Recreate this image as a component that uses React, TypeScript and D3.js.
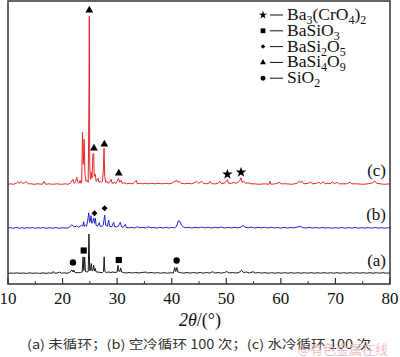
import React from "react";
import * as d3 from "d3";

// ---- data ----
const xTicks = [10, 20, 30, 40, 50, 60, 70, 80];
const xMinorTicks = [15, 25, 35, 45, 55, 65, 75];
const seriesNames = ["(a)", "(b)", "(c)"];
const seriesColors = ["#1a1a1a", "#2323c8", "#e8282c"];
const seriesOffsets = [10.5, 55.7, 99.7];

// (a) uncycled
const seriesA: [number, number][] = [
  [10, 0], [10.5, 0.5], [11, 0.2], [11.6, 0.6], [12.2, 0.2], [12.8, 0.5], [13.4, 0.1], [14.0, 0.6], [14.6, 0.2],
  [15.2, 0.5], [15.8, 0.1], [16.4, 0.6], [17.0, 0.2], [17.6, 0.6], [18.1, 0.2], [18.3, 2], [18.5, 0.3], [19.0, 0.5],
  [19.5, 1.5], [19.8, 0.3], [20.3, 0.6], [20.8, 0.3], [21.3, 1], [21.7, 3.5], [21.9, 1.5], [22.05, 3.5], [22.3, 0.8],
  [22.7, 1], [23.0, 0.8], [23.3, 1], [23.6, 1.5], [23.75, 16.6], [23.9, 3], [24.05, 16.5], [24.2, 2], [24.5, 1.5],
  [24.7, 2], [24.83, 39.5], [24.98, 3], [25.1, 3], [25.26, 10], [25.4, 2.5], [25.55, 3], [25.7, 8.3], [25.85, 2.5],
  [26.0, 5], [26.15, 1.5], [26.5, 1.5], [26.9, 1], [27.3, 1], [27.5, 2], [27.62, 16.6], [27.75, 2], [28.0, 1],
  [28.4, 1.5], [28.8, 1], [29.2, 1.5], [29.6, 1], [30.0, 1.5], [30.15, 8.3], [30.3, 2.5], [30.5, 2], [30.65, 5.5],
  [30.8, 1.5], [31.2, 1], [31.7, 0.5], [32.2, 1], [32.8, 0.5], [33.4, 1], [34.0, 0.5], [34.6, 1], [35.3, 1.5],
  [35.6, 0.5], [36.2, 1], [36.8, 0.5], [37.4, 0.8], [38.0, 0.3], [38.6, 0.8], [39.2, 0.3], [39.8, 0.8], [40.3, 0.5],
  [40.55, 6], [40.75, 2], [40.95, 6], [41.15, 1.5], [41.6, 0.8], [42.2, 0.4], [42.8, 1], [43.4, 0.4], [44.0, 1],
  [44.6, 0.4], [45.2, 1], [45.8, 0.4], [46.4, 1], [47.0, 0.4], [47.5, 1.8], [47.9, 0.4], [48.5, 1], [49.1, 0.4],
  [49.7, 1], [50.1, 2], [50.5, 0.5], [51.1, 1], [51.7, 0.5], [52.3, 1], [52.8, 3], [53.2, 1], [53.7, 1.5], [54.2, 0.5],
  [54.9, 1.8], [55.3, 0.4], [55.9, 1], [56.5, 0.4], [57.1, 0.8], [57.7, 0.3], [58.3, 0.8], [58.9, 0.3], [59.5, 0.8],
  [60.1, 0.3], [60.7, 0.8], [61.3, 0.3], [61.9, 0.8], [62.5, 0.3], [63.1, 0.8], [63.7, 0.3], [64.3, 0.8], [64.9, 0.3],
  [65.5, 0.8], [66.1, 0.3], [66.7, 0.8], [67.3, 0.3], [67.9, 0.8], [68.5, 0.3], [69.1, 0.8], [69.7, 0.3], [70.3, 0.8],
  [70.9, 0.3], [71.5, 0.8], [72.1, 0.3], [72.7, 0.8], [73.3, 0.3], [73.9, 0.8], [74.5, 0.3], [75.1, 0.8], [75.7, 0.3],
  [76.3, 0.8], [76.9, 0.3], [77.5, 0.8], [78.1, 0.3], [78.7, 0.8], [79.3, 0.3], [80, 0.6],
];

// (b) air cooled 100 cycles
const seriesB: [number, number][] = [
  [10, 0], [10.4, 0.8], [10.8, 0], [11.3, 0.5], [11.7, 0.8], [12.1, 0], [12.6, 0.6], [13.0, 0], [13.5, 0.7],
  [14.0, 0.2], [14.5, 0.8], [15.0, 0], [15.5, 0.6], [16.0, 0.2], [16.5, 0.8], [17.0, 0], [17.6, 0.6], [18.2, 0.1],
  [18.8, 0.7], [19.4, 0], [20.0, 0.6], [20.6, 0.2], [21.1, 0.6], [21.4, 2], [21.7, 3.5], [22.0, 2], [22.3, 1.5],
  [22.6, 2.5], [22.9, 1], [23.2, 2], [23.5, 3], [23.7, 2], [23.87, 6.6], [24.0, 2], [24.2, 3], [24.4, 2], [24.6, 8],
  [24.8, 15.5], [24.95, 6], [25.1, 8], [25.21, 12.6], [25.35, 5], [25.55, 7], [25.7, 10.3], [25.85, 5], [26.0, 10],
  [26.15, 3], [26.4, 2], [26.73, 5.6], [26.9, 2], [27.2, 2], [27.45, 3], [27.72, 13.3], [27.9, 3], [28.2, 2],
  [28.45, 8.3], [28.6, 2], [29.0, 1.5], [29.37, 6], [29.55, 1.5], [29.9, 1.5], [30.2, 2], [30.58, 6], [30.8, 1.5],
  [31.1, 1], [31.5, 4], [31.7, 1], [32.2, 0.5], [32.7, 1], [33.2, 0.3], [33.7, 1.5], [34.2, 0.5], [34.7, 1],
  [35.2, 0.3], [35.7, 1.5], [36.2, 0.5], [36.7, 0.8], [37.3, 0.2], [37.8, 1], [38.4, 0.3], [39.0, 1], [39.5, 0.3],
  [40.0, 0.8], [40.5, 0.5], [40.9, 2], [41.2, 7.5], [41.5, 7], [41.8, 3], [42.1, 1.5], [42.6, 0.5], [43.1, 1],
  [43.7, 0.3], [44.3, 1], [44.9, 0.5], [45.5, 1.2], [46.1, 0.4], [46.7, 1], [47.3, 0.3], [47.9, 1], [48.5, 0.5],
  [49.1, 1.2], [49.7, 0.3], [50.3, 1], [50.9, 0.4], [51.5, 1], [52.1, 0.4], [52.7, 1.2], [53.1, 3], [53.4, 1],
  [54.0, 0.5], [54.6, 1.2], [55.2, 0.3], [55.8, 1], [56.4, 0.4], [57.0, 1], [57.6, 0.3], [58.2, 1], [58.8, 0.4],
  [59.4, 0.8], [60.0, 0.2], [60.6, 1], [61.2, 0.3], [61.8, 0.8], [62.4, 0.5], [63.0, 1.2], [63.5, 2], [64.0, 0.8],
  [64.6, 0.3], [65.2, 1], [65.8, 0.3], [66.4, 0.8], [67.0, 0.2], [67.6, 0.8], [68.2, 0.3], [68.8, 0.6], [69.4, 0.1],
  [70.0, 0.6], [70.6, 0.2], [71.2, 0.8], [71.8, 0.1], [72.4, 0.7], [73.0, 0.2], [73.6, 0.8], [74.2, 0.1], [74.8, 0.6],
  [75.4, 0.2], [76.0, 0.7], [76.6, 0.2], [77.2, 0.8], [77.8, 0.2], [78.4, 0.6], [79.0, 0.1], [79.6, 0.6], [80, 0.3],
];

// (c) water cooled 100 cycles
const seriesC: [number, number][] = [
  [10.0, 0], [10.5, 0.5], [11.0, 0], [11.5, 1], [11.8, 2.5], [12.0, 1], [12.4, 2.5], [12.7, 1], [13.0, 1.5],
  [13.4, 2.5], [13.7, 0.5], [14.2, 0.5], [14.8, 0], [15.5, 0.5], [16.3, 0], [16.6, 3], [16.9, 0], [17.5, 0.5],
  [18.2, 0], [19.0, 0.5], [19.8, 0], [20.5, 0.5], [21.0, 0], [21.5, 1.5], [21.9, 5], [22.1, 1], [22.4, 3], [22.6, 7],
  [22.8, 2], [23.0, 1], [23.2, 4], [23.35, 1], [23.5, 2], [23.65, 52], [23.8, 20], [23.95, 45], [24.1, 10],
  [24.3, 3], [24.5, 4], [24.7, 2], [24.82, 80], [24.9, 168], [24.98, 20], [25.1, 5], [25.25, 12], [25.4, 6],
  [25.55, 30], [25.7, 31], [25.8, 8], [26.0, 10], [26.15, 3], [26.35, 4], [26.5, 6], [26.65, 2], [26.9, 3],
  [27.1, 2], [27.3, 3], [27.45, 12], [27.6, 36], [27.72, 8], [27.9, 2], [28.1, 3], [28.3, 1], [28.6, 2], [28.9, 5],
  [29.1, 1], [29.5, 2], [29.8, 1], [30.0, 3], [30.25, 6], [30.45, 2], [30.7, 4], [30.9, 1], [31.3, 1.5], [31.7, 0.5],
  [32.2, 1], [32.6, 0.5], [33.0, 1], [33.5, 4], [33.7, 0.5], [34.2, 1], [34.7, 0.5], [35.2, 1], [35.8, 0.5],
  [36.3, 1], [36.9, 0.5], [37.5, 1], [38.2, 0.5], [38.9, 1], [39.5, 0.5], [40.0, 1], [40.6, 3], [40.9, 4], [41.1, 2],
  [41.4, 3], [41.7, 1], [42.3, 0.5], [43.0, 1], [43.7, 0.5], [44.3, 2], [44.6, 3], [44.9, 1], [45.2, 2], [45.5, 3],
  [45.8, 1], [46.3, 0.5], [46.8, 1], [47.0, 3], [47.3, 0.5], [48.0, 0.5], [48.5, 1], [48.8, 3], [49.1, 0.5],
  [49.6, 1], [50.0, 3], [50.2, 4.5], [50.4, 1], [51.0, 1], [51.4, 2], [51.7, 1], [52.2, 2], [52.5, 4], [52.7, 6.5],
  [52.9, 2], [53.2, 3], [53.5, 1], [54.0, 1.5], [54.5, 0.5], [55.2, 0.5], [56.0, 0], [57.0, 0.5], [57.8, 0],
  [58.0, 3], [58.2, 0], [59.0, 0.5], [59.8, 2], [60.0, 0.5], [61.0, 0.5], [62.0, 0], [63.0, 1], [63.3, 3],
  [63.6, 2], [63.9, 3], [64.2, 0.5], [65.0, 1], [65.5, 2], [65.8, 0.5], [66.5, 1], [67.0, 2], [67.3, 0.5],
  [67.8, 2.5], [68.1, 0.5], [68.6, 1], [69.0, 0.5], [69.5, 2.5], [69.8, 0.5], [70.3, 2], [70.6, 0.5], [71.2, 0.5],
  [72.0, 0.5], [72.7, 2], [73.0, 0.5], [74.0, 0.5], [75.0, 0], [76.0, 0.5], [76.8, 1.5], [77.2, 3], [77.6, 1],
  [78.2, 0.5], [79.0, 0], [80, 0.5],
];
const allSeries = [seriesA, seriesB, seriesC];

// phase markers: [series index, 2theta, level above that series baseline]
const phaseNames = ["Ba3(CrO4)2", "BaSiO3", "BaSi2O5", "BaSi4O9", "SiO2"];
const markStar: [number, number, number][] = [[2, 50.2, 10], [2, 52.7, 12]];
const markSquare: [number, number, number][] = [[0, 23.87, 23], [0, 30.3, 13.5]];
const markDiamond: [number, number, number][] = [[1, 25.85, 15], [1, 27.7, 20]];
const markTriangle: [number, number, number][] = [[2, 24.9, 174], [2, 25.75, 36], [2, 27.65, 40], [2, 30.3, 11]];
const markCircle: [number, number, number][] = [[0, 21.9, 11], [0, 40.9, 13]];

const caption = "(a) 未循环；(b) 空冷循环 100 次；(c) 水冷循环 100 次";
const watermark = "@有色金属在线";

// ---- layout ----
const W = 400, H = 357;
const L = 8, R = 390, T = 1, B = 284;
const serif = "'Liberation Serif', 'Times New Roman', serif";

const x = d3.scaleLinear().domain([10, 80]).range([L, R]);
const y = d3.scaleLinear().domain([0, 283]).range([B, T]);

function symPath(kind: string, size: number) {
  if (kind === "star") return d3.symbol(d3.symbolStar, size)()!;
  if (kind === "square") return d3.symbol(d3.symbolSquare, size)()!;
  if (kind === "triangle") return d3.symbol(d3.symbolTriangle, size)()!;
  if (kind === "circle") return d3.symbol(d3.symbolCircle, size)()!;
  const s = (Math.sqrt(size) / 2) * 1.25;
  return `M0,${-s}L${s},0L0,${s}L${-s},0Z`;
}

const markerSets: { kind: string; size: number; pts: [number, number, number][] }[] = [
  { kind: "star", size: 34, pts: markStar },
  { kind: "square", size: 38, pts: markSquare },
  { kind: "diamond", size: 22, pts: markDiamond },
  { kind: "triangle", size: 26, pts: markTriangle },
  { kind: "circle", size: 32, pts: markCircle },
];

function Sub({ t }: { t: string }) {
  const parts = t.split(/(\d+)/).filter((p) => p.length);
  let sub = false;
  return (
    <>
      {parts.map((p, i) => {
        const isNum = /^\d+$/.test(p);
        const dy = isNum && !sub ? 4 : !isNum && sub ? -4 : 0;
        sub = isNum;
        return (
          <tspan key={i} dy={dy} fontSize={isNum ? 12 : 17.5}>
            {p}
          </tspan>
        );
      })}
    </>
  );
}

export default function App() {
  const line = d3
    .line<[number, number]>()
    .x((d) => x(d[0]))
    .y((d) => d[1]);

  return (
    <svg width={W} height={H} style={{ position: "absolute", left: 0, top: 0, background: "#fff" }}>
      <rect x={0} y={0} width={W} height={H} fill="#fff" />
      {allSeries.map((s, i) => (
        <path
          key={i}
          d={line(s.map((d) => [d[0], y(d[1] + seriesOffsets[i])] as [number, number]))!}
          fill="none"
          stroke={seriesColors[i]}
          strokeWidth={1}
          strokeLinejoin="round"
        />
      ))}
      {markerSets.map((m) =>
        m.pts.map((p, j) => (
          <path
            key={m.kind + j}
            d={symPath(m.kind, m.size)}
            transform={`translate(${x(p[1])},${y(p[2] + seriesOffsets[p[0]])})`}
            fill="#000"
          />
        ))
      )}
      <rect x={L} y={T} width={R - L} height={B - T} fill="none" stroke="#333" strokeWidth={1.5} />
      {xTicks.map((t) => (
        <g key={t}>
          <line x1={x(t)} x2={x(t)} y1={B} y2={B - 6} stroke="#333" strokeWidth={1.2} />
          <text x={x(t)} y={304} textAnchor="middle" fontFamily={serif} fontSize={17} fill="#111">
            {t}
          </text>
        </g>
      ))}
      {xMinorTicks.map((t) => (
        <line key={t} x1={x(t)} x2={x(t)} y1={B} y2={B - 3} stroke="#333" strokeWidth={1} />
      ))}
      <text x={200} y={326} textAnchor="middle" fontFamily={serif} fontSize={18} fill="#111">
        <tspan fontStyle="italic">2θ</tspan>
        <tspan>/(°)</tspan>
      </text>
      {seriesNames.map((n, i) => (
        <text key={n} x={386} y={y(seriesOffsets[i]) - 8} textAnchor="end" fontFamily={serif} fontSize={17} fill="#111">
          {n}
        </text>
      ))}
      {phaseNames.map((n, i) => {
        const cy = 15 + i * 15.8;
        const m = markerSets[i];
        return (
          <g key={n}>
            <path d={symPath(m.kind, m.size * 0.6)} transform={`translate(263,${cy})`} fill="#000" />
            <line x1={270} x2={283} y1={cy} y2={cy} stroke="#111" strokeWidth={1} />
            <text x={287} y={cy + 5} fontFamily={serif} fontSize={17.5} fill="#111">
              <Sub t={n} />
            </text>
          </g>
        );
      })}
      <text
        x={199}
        y={349}
        textAnchor="middle"
        fontFamily="'Noto Sans CJK SC', sans-serif"
        fontSize={12.5}
        fill="#333"
        textLength={344}
        lengthAdjust="spacingAndGlyphs"
      >
        {caption}
      </text>
      <text x={388} y={354} textAnchor="end" fontFamily="'Noto Sans CJK SC', sans-serif" fontSize={13} fill="#eab0b4" opacity={0.8}>
        {watermark}
      </text>
    </svg>
  );
}
